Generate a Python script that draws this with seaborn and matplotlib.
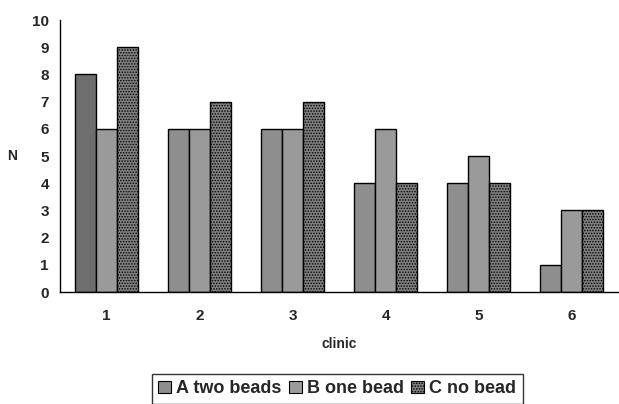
import matplotlib
matplotlib.use("Agg")
import matplotlib.pyplot as plt
import seaborn as sns
import pandas as pd
import numpy as np

clinics = ["1", "2", "3", "4", "5", "6"]
series_names = ["A two beads", "B one bead", "C no bead"]
a_two_beads = [8, 6, 6, 4, 4, 1]
b_one_bead = [6, 6, 6, 6, 5, 3]
c_no_bead = [9, 7, 7, 4, 4, 3]

rows = []
for name, vals in zip(series_names, [a_two_beads, b_one_bead, c_no_bead]):
    for c, v in zip(clinics, vals):
        rows.append({"clinic": c, "N": v, "series": name})
df = pd.DataFrame(rows)

sns.set_style("white")
plt.rcParams["font.family"] = ["Liberation Sans", "DejaVu Sans"]
plt.rcParams["hatch.linewidth"] = 0.7

fig = plt.figure(figsize=(6.19, 4.04), dpi=100)
ax = fig.add_axes([60/619, 1-292/404, 558/619, 272/404])

face = {"A two beads": "#8e8e8e", "B one bead": "#9a9a9a", "C no bead": "#808080"}
sns.barplot(data=df, x="clinic", y="N", hue="series", hue_order=series_names,
            palette=face, width=0.67, gap=0, ax=ax, legend=False,
            edgecolor="black", linewidth=1.0, saturation=1)

hatches = [None, None, "......"]
for i, cont in enumerate(ax.containers):
    for j, p in enumerate(cont):
        p.set_edgecolor("black")
        p.set_linewidth(1.0)
        if hatches[i]:
            p.set_hatch(hatches[i])
        if i == 0 and j == 0:
            p.set_facecolor("#6e6e6e")

ax.set_xlim(-0.5, 5.5)
ax.set_ylim(0, 10)
ax.set_yticks(range(0, 11))
ax.set_xticks(range(6))
ax.set_xticklabels(clinics)
ax.set_xticks(np.arange(-0.5, 6, 1), minor=True)
ax.tick_params(axis="x", which="major", length=0, pad=12, labelsize=11)
ax.tick_params(axis="x", which="minor", length=5, width=1, color="black", direction="out")
ax.tick_params(axis="y", length=5, width=1, color="black", direction="out", labelsize=11, pad=3)
for lab in ax.get_xticklabels() + ax.get_yticklabels():
    lab.set_fontweight("bold")

for s in ["top", "right"]:
    ax.spines[s].set_visible(False)
for s in ["left", "bottom"]:
    ax.spines[s].set_color("black")
    ax.spines[s].set_linewidth(1.0)

ax.set_xlabel("clinic", fontsize=10, fontweight="bold", labelpad=10)
ax.set_ylabel("N", fontsize=10, fontweight="bold", rotation=0, labelpad=14, va="center")

from matplotlib.patches import Patch
handles = [Patch(facecolor=face[series_names[0]], edgecolor="black", linewidth=0.8),
           Patch(facecolor=face[series_names[1]], edgecolor="black", linewidth=0.8),
           Patch(facecolor=face[series_names[2]], edgecolor="black", linewidth=0.8, hatch="......")]
leg = fig.legend(handles, series_names, loc="upper center", bbox_to_anchor=(0.545, 1-374/404),
                 ncol=3, frameon=True, fancybox=False, edgecolor="black",
                 prop={"weight": "bold", "size": 13}, handlelength=0.7, handleheight=0.7,
                 handletextpad=0.3, columnspacing=0.4, borderpad=0.35, borderaxespad=0)
leg.get_frame().set_linewidth(1.0)

fig.savefig("out.png", dpi=100)
